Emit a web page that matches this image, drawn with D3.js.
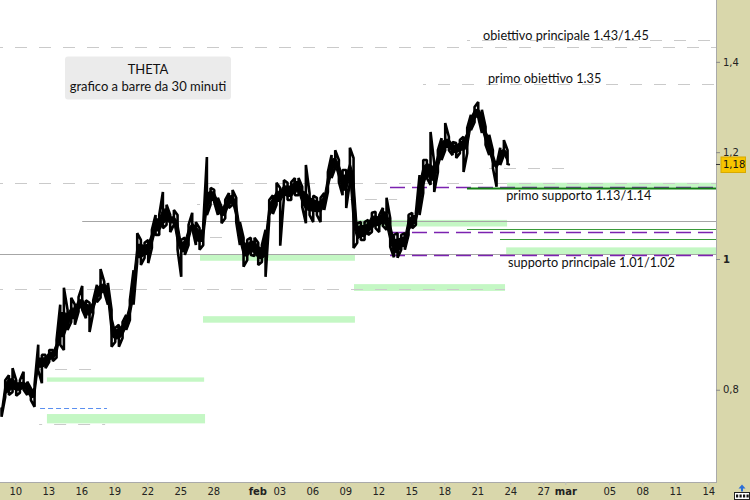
<!DOCTYPE html>
<html><head><meta charset="utf-8">
<script src="https://cdn.jsdelivr.net/npm/d3@7"></script>
<style>
html,body{margin:0;padding:0;background:#fff;}
svg{display:block;}
</style></head>
<body>
<svg id="chart" width="750" height="500"></svg>
<script>
// ---------------- DATA ----------------
const domainStart = "2023-01-08T14:36";
const domainEnd   = "2023-03-14T16:48";

// 8-hour sampled price bars (high / low), first bar at seriesStart
const seriesStart = "2023-01-08T18:00";
const barHigh = [
0.776,0.813,0.820,0.830,0.813,0.813,0.825,0.811,0.802,0.807,
0.864,0.849,0.849,0.856,0.856,0.871,0.925,0.952,0.917,0.936,
0.925,0.937,0.955,0.932,0.928,0.932,0.957,0.983,0.962,0.960,
0.917,0.889,0.894,0.898,0.909,0.932,0.981,1.045,1.033,1.028,
1.033,1.051,1.078,1.078,1.121,1.097,1.078,1.087,1.078,1.033,
1.037,1.060,1.082,1.065,1.054,1.060,1.190,1.129,1.125,1.110,
1.093,1.106,1.119,1.125,1.110,1.065,1.037,1.033,1.037,1.037,
1.028,1.024,1.051,1.106,1.115,1.139,1.129,1.144,1.139,1.140,
1.148,1.148,1.131,1.174,1.119,1.114,1.110,1.110,1.119,1.160,
1.194,1.204,1.184,1.164,1.164,1.209,1.188,1.063,1.065,1.065,
1.069,1.082,1.084,1.078,1.091,1.110,1.072,1.042,1.045,1.042,
1.045,1.078,1.082,1.082,1.154,1.184,1.184,1.242,1.178,1.204,
1.229,1.261,1.232,1.221,1.219,1.225,1.232,1.251,1.279,1.296,
1.307,1.290,1.253,1.236,1.204,1.174,1.209,1.225,1.204];
const barLow = [
0.764,0.790,0.793,0.797,0.792,0.796,0.800,0.793,0.786,0.777,
0.827,0.809,0.830,0.839,0.840,0.845,0.864,0.856,0.886,0.898,
0.894,0.914,0.917,0.904,0.883,0.912,0.929,0.936,0.945,0.925,
0.861,0.868,0.861,0.874,0.886,0.901,0.925,0.995,0.990,1.002,
0.993,1.019,1.042,1.042,1.054,1.060,1.047,1.060,1.016,0.970,
1.007,1.024,1.054,1.024,1.016,1.024,1.078,1.097,1.102,1.078,
1.063,1.072,1.091,1.097,1.065,1.024,0.987,0.998,1.007,1.005,
0.990,0.995,0.970,1.069,1.080,1.097,1.023,1.110,1.106,1.106,
1.115,1.115,1.093,1.063,1.078,1.065,1.078,1.065,1.087,1.121,
1.148,1.168,1.140,1.115,1.091,1.140,1.019,1.028,1.033,1.033,
1.042,1.047,1.054,1.047,1.058,1.051,1.021,1.003,1.002,1.016,
1.016,1.042,1.054,1.060,1.078,1.119,1.148,1.135,1.121,1.160,
1.184,1.204,1.204,1.194,1.188,1.198,1.160,1.198,1.246,1.263,
1.274,1.240,1.215,1.194,1.168,1.131,1.174,1.194,1.174];
const lastPrice = 1.175;
const lastPriceLabel = "1,18";

// horizontal levels: [value, from, to]
const grayDashedLevels = [
  [1.453, "2023-02-20T01:30", domainEnd],
  [1.435, domainStart, domainEnd],
  [1.348, "2023-02-16T01:30", domainEnd],
  [1.139, domainStart, domainEnd],
  [0.950, domainStart, "2023-02-23T12:30"],
  [1.098, "2023-01-26T12:30", "2023-01-29T06:00"],
  [1.038, "2023-01-26T08:00", "2023-01-29T17:00"],
  [1.107, "2023-02-09T10:00", "2023-02-13T17:00"],
  [1.167, "2023-02-22T01:30", "2023-02-28T23:00"],
  [0.829, "2023-01-12T06:00", "2023-01-17T21:00"],
  [0.755, "2023-01-12T04:00", "2023-01-18T04:00"]
];
const graySolidLevels = [
  [1.067, "2023-01-16T02:00", domainEnd],
  [1.008, domainStart, domainEnd]
];
const purpleLevels = [
  [1.130, "2023-02-13T01:30", domainEnd],
  [1.047, "2023-02-13T01:30", domainEnd],
  [1.006, "2023-02-13T01:30", domainEnd]
];
const greenMainLevels = [
  [1.128, "2023-02-20T01:30", domainEnd]
];
const greenThinLevels = [
  [1.052, "2023-02-20T01:30", domainEnd],
  [1.034, "2023-02-23T01:30", domainEnd]
];
const blueLevels = [
  [0.775, "2023-01-12T06:00", "2023-01-18T08:00"]
];
// zones: [top, bottom, from, to]
const greenZones = [
  [0.817, 0.811, "2023-01-12T21:00", "2023-01-27T04:00"],
  [0.7675, 0.7554, "2023-01-12T21:00", "2023-01-27T06:00"],
  [1.008, 0.997, "2023-01-26T19:00", "2023-02-09T21:00"],
  [0.907, 0.897, "2023-01-27T01:30", "2023-02-09T21:00"],
  [0.958, 0.947, "2023-02-09T19:00", "2023-02-23T12:30"],
  [1.069, 1.057, "2023-02-09T21:00", "2023-02-23T17:00"],
  [1.139, 1.130, "2023-02-23T17:00", domainEnd],
  [1.020, 1.008, "2023-02-23T15:00", domainEnd]
];
// annotation texts anchored at [date, value]
const annotations = [
  ["obiettivo principale 1.43/1.45", "2023-02-21T12:30", 1.453],
  ["primo obiettivo 1.35", "2023-02-21T23:20", 1.350],
  ["primo supporto 1.13/1.14", "2023-02-23T15:00", 1.106],
  ["supporto principale 1.01/1.02", "2023-02-23T19:00", 0.986]
];
const titleLines = ["THETA", "grafico a barre da 30 minuti"];

const xTickDates = ["2023-01-10","2023-01-13","2023-01-16","2023-01-19","2023-01-22","2023-01-25","2023-01-28",
  "2023-02-01","2023-02-03","2023-02-06","2023-02-09","2023-02-12","2023-02-15","2023-02-18","2023-02-21",
  "2023-02-24","2023-02-27","2023-03-01","2023-03-05","2023-03-08","2023-03-11","2023-03-14"];
const xTickLabels = ["10","13","16","19","22","25","28","feb","03","06","09","12","15","18","21","24","27","mar","05","08","11","14"];
const yTickValues = [0.8, 1, 1.2, 1.4];
const yTickLabels = ["0,8", "1", "1,2", "1,4"];

// ---------------- DRAW ----------------
const W = 750, H = 500, PR = 716, PB = 483;
const khaki = "#d9d7ab";
const pt = d3.utcParse("%Y-%m-%dT%H:%M");
const pd = d3.utcParse("%Y-%m-%d");
const svg = d3.select("#chart");

const x = d3.scaleUtc().domain([pt(domainStart), pt(domainEnd)]).range([0, PR]);
const y = d3.scaleLog().domain([0.6823, 1.5558]).range([PB, 0]);
const cy = v => Math.round(y(v)) + 0.5;

svg.append("rect").attr("width", W).attr("height", H).attr("fill", "#fff");
svg.append("defs").append("clipPath").attr("id", "plotclip")
  .append("rect").attr("x", 0).attr("y", 0).attr("width", PR).attr("height", PB);
const plot = svg.append("g").attr("clip-path", "url(#plotclip)");

// zones
plot.selectAll("rect.zone").data(greenZones).join("rect").attr("class", "zone")
  .attr("x", d => x(pt(d[2]))).attr("width", d => x(pt(d[3])) - x(pt(d[2])))
  .attr("y", d => y(d[0])).attr("height", d => y(d[1]) - y(d[0]))
  .attr("fill", "#c4f7c4");

function levels(data, cls, stroke, width, dash, offset) {
  plot.selectAll("line." + cls).data(data).join("line").attr("class", cls)
    .attr("x1", d => x(pt(d[1]))).attr("x2", d => x(pt(d[2])))
    .attr("y1", d => cy(d[0])).attr("y2", d => cy(d[0]))
    .attr("stroke", stroke).attr("stroke-width", width)
    .attr("stroke-dasharray", dash).attr("stroke-dashoffset", offset || 0);
}
levels(grayDashedLevels, "gdash", "#cacaca", 1, "12,12", 9);
levels(graySolidLevels, "gsolid", "#a6a6a6", 1, null);
levels(blueLevels, "blue", "#5a8ff0", 1, "5,3");
levels(purpleLevels, "purple", "#7b22b0", 1.3, "15,7");
levels(greenThinLevels, "gthin", "#3a9a3a", 1, null);
levels(greenMainLevels, "gmain", "#137f13", 2, null);

// price bars: thin core band + jagged bar path over full high/low range
const times = barHigh.map((_, i) => d3.utcHour.offset(pt(seriesStart), 8 * i));
const n = times.length;
const tops = barHigh.map(v => y(v)), bots = barLow.map(v => y(v));
const core = times.map((t, i) => {
  const pT = tops[Math.max(0, i - 1)], nT = tops[Math.min(n - 1, i + 1)];
  const pB = bots[Math.max(0, i - 1)], nB = bots[Math.min(n - 1, i + 1)];
  let bt = Math.max(tops[i], Math.min(pT, nT));
  let bb = Math.min(bots[i], Math.max(pB, nB));
  if (bb < bt) { const m = (bt + bb) / 2; bt = m; bb = m; }
  const m = (bt + bb) / 2, h = Math.max(1.5, (bb - bt) * 0.3);
  return { x: x(t), t: m - h, b: m + h };
});
const area = d3.area().x(d => d.x).y0(d => d.b).y1(d => d.t);
plot.append("path").attr("d", area(core)).attr("fill", "#000")
  .attr("stroke", "#000").attr("stroke-width", 1.2).attr("stroke-linejoin", "round");
const pts = [];
times.forEach((t, i) => {
  if (i % 2 === 0) { pts.push([t, barHigh[i]]); pts.push([t, barLow[i]]); }
  else { pts.push([t, barLow[i]]); pts.push([t, barHigh[i]]); }
});
const line = d3.line().x(d => x(d[0])).y(d => y(d[1]));
plot.append("path").attr("d", line(pts)).attr("fill", "none")
  .attr("stroke", "#000").attr("stroke-width", 2.6).attr("stroke-linejoin", "bevel");
// last close tick
const lastT = times[n - 1];
plot.append("line").attr("x1", x(lastT)).attr("x2", x(lastT) + 2.5)
  .attr("y1", y(lastPrice)).attr("y2", y(lastPrice)).attr("stroke", "#000").attr("stroke-width", 2);

// annotations
plot.selectAll("text.ann").data(annotations).join("text").attr("class", "ann")
  .attr("x", d => x(pt(d[1]))).attr("y", d => y(d[2]))
  .attr("font-family", "Lato, 'Open Sans', sans-serif").attr("font-size", 12.7)
  .attr("fill", "#111").text(d => d[0]);

// title box
const tb = svg.append("g");
tb.append("rect").attr("x", 65).attr("y", 56.5).attr("width", 166).attr("height", 43)
  .attr("rx", 3).attr("fill", "#ebebeb");
tb.selectAll("text").data(titleLines).join("text")
  .attr("x", 148).attr("y", (d, i) => 73.5 + i * 17.5).attr("text-anchor", "middle")
  .attr("font-family", "Lato, 'Open Sans', sans-serif").attr("font-size", 13)
  .attr("fill", "#111").text(d => d);

// axis strips
svg.append("rect").attr("x", PR + 1).attr("y", 0).attr("width", W - PR - 1).attr("height", H).attr("fill", khaki);
svg.append("rect").attr("x", 0).attr("y", PB).attr("width", W).attr("height", H - PB).attr("fill", khaki);
svg.append("line").attr("x1", PR + 0.5).attr("x2", PR + 0.5).attr("y1", 0).attr("y2", PB)
  .attr("stroke", "#aaa");
svg.append("line").attr("x1", 0).attr("x2", PR + 0.5).attr("y1", PB - 0.5).attr("y2", PB - 0.5)
  .attr("stroke", "#aaa");

// x axis
const xa = svg.append("g").attr("transform", `translate(0,${PB - 1})`)
  .call(d3.axisBottom(x).tickValues(xTickDates.map(pd)).tickSize(3).tickPadding(3)
    .tickFormat((d, i) => xTickLabels[i]));
xa.select(".domain").remove();
xa.selectAll(".tick line").attr("stroke", "#bbb");
xa.selectAll(".tick text").attr("font-family", "'DejaVu Sans', Verdana, sans-serif")
  .attr("font-size", 10).attr("fill", "#222")
  .attr("font-weight", (d, i) => isNaN(+xTickLabels[i]) ? "bold" : "normal");

// y axis
const ya = svg.append("g").attr("transform", `translate(${PR},0)`)
  .call(d3.axisRight(y).tickValues(yTickValues).tickSize(4).tickPadding(3)
    .tickFormat((d, i) => yTickLabels[i]));
ya.select(".domain").remove();
ya.selectAll(".tick line").attr("stroke", "#888");
ya.selectAll(".tick text").attr("font-family", "'DejaVu Sans', Verdana, sans-serif")
  .attr("font-size", 10).attr("fill", "#222")
  .attr("font-weight", (d, i) => yTickLabels[i] === "1" ? "bold" : "normal");

// last price marker
const ly = y(lastPrice);
svg.append("line").attr("x1", PR).attr("x2", PR + 4).attr("y1", ly).attr("y2", ly).attr("stroke", "#333");
svg.append("rect").attr("x", 721).attr("y", ly - 7.5).attr("width", 24.5).attr("height", 15.5)
  .attr("fill", "#f7c500").attr("stroke", "#d8a900");
svg.append("text").attr("x", 723).attr("y", ly + 3.8)
  .attr("font-family", "'DejaVu Sans', Verdana, sans-serif").attr("font-size", 10)
  .attr("fill", "#111").text(lastPriceLabel);

// corner icon
const ic = svg.append("g");
ic.append("path").attr("d", "M742,484.5 L738.5,488.5 L741,488.5 L741,491.5 L743,491.5 L743,488.5 L745.5,488.5 Z")
  .attr("fill", "#2b6fd8");
ic.append("rect").attr("x", 734.5).attr("y", 492.5).attr("width", 15).attr("height", 7)
  .attr("fill", "#fff").attr("stroke", "#222");
[736, 739.5, 743, 746.5].forEach(px => ic.append("rect").attr("x", px).attr("y", 494.5)
  .attr("width", 2.2).attr("height", 3).attr("fill", "#111"));
</script>
</body></html>
